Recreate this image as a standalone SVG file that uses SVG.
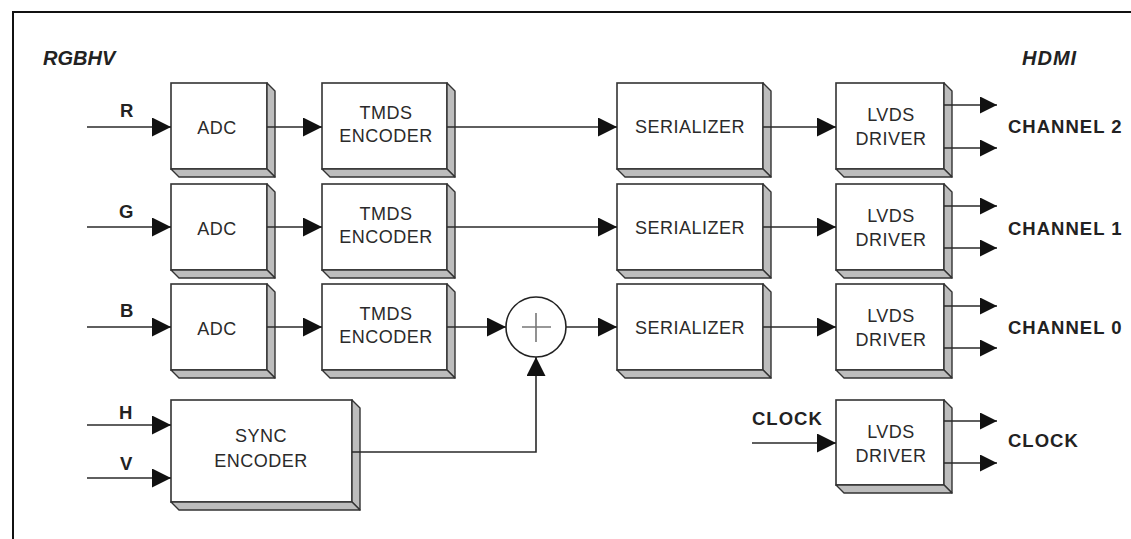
<svg xmlns="http://www.w3.org/2000/svg" width="1131" height="539" viewBox="0 0 1131 539">
<style>
.front{fill:#fff;stroke:#333;stroke-width:1.6}
.side{fill:#bdbdbd;stroke:#333;stroke-width:1.4;stroke-linejoin:round}
.bt{font-family:"Liberation Sans",Arial,sans-serif;font-size:18px;fill:#2a2a2a;text-anchor:middle;letter-spacing:0.5px}
.lb{font-family:"Liberation Sans",Arial,sans-serif;font-size:18.5px;font-weight:bold;fill:#222;letter-spacing:1px}
.ti{font-family:"Liberation Sans",Arial,sans-serif;font-size:20px;font-weight:bold;font-style:italic;fill:#222}
.ln{fill:none;stroke:#2a2a2a;stroke-width:1.6}
</style>
<defs>
<marker id="ah" markerUnits="userSpaceOnUse" markerWidth="20" markerHeight="20" refX="19" refY="9.5" orient="auto">
<path d="M0,0 L19,9.5 L0,19 z" fill="#111"/>
</marker>
<marker id="ao" markerUnits="userSpaceOnUse" markerWidth="18" markerHeight="18" refX="17" refY="8.5" orient="auto">
<path d="M0,0 L17,8.5 L0,17 z" fill="#111"/>
</marker>
</defs>
<rect width="1131" height="539" fill="#fff"/>
<path d="M13,539 V12 H1131" fill="none" stroke="#111" stroke-width="2"/>
<text class="ti" x="43" y="65">RGBHV</text>
<text class="ti" x="1022" y="65" font-size="21" letter-spacing="1">HDMI</text>

<g id="adc_r">
<rect class="front" x="171" y="83" width="96" height="86"/>
<polygon class="side" points="267,83 275,91 275,177 267,169"/>
<polygon class="side" points="171,169 267,169 275,177 179,177"/>
<text class="bt" x="217" y="134">ADC</text>
</g>
<g id="tmds_r">
<rect class="front" x="322" y="83" width="125" height="86"/>
<polygon class="side" points="447,83 455,91 455,177 447,169"/>
<polygon class="side" points="322,169 447,169 455,177 330,177"/>
<text class="bt" x="386" y="119">TMDS</text>
<text class="bt" x="386" y="142">ENCODER</text>
</g>
<g id="ser_r">
<rect class="front" x="617" y="83" width="146" height="86"/>
<polygon class="side" points="763,83 771,91 771,177 763,169"/>
<polygon class="side" points="617,169 763,169 771,177 625,177"/>
<text class="bt" x="690" y="133">SERIALIZER</text>
</g>
<g id="lvds_2">
<rect class="front" x="836" y="83" width="108" height="86"/>
<polygon class="side" points="944,83 952,91 952,177 944,169"/>
<polygon class="side" points="836,169 944,169 952,177 844,177"/>
<text class="bt" x="891" y="121">LVDS</text>
<text class="bt" x="891" y="145">DRIVER</text>
</g>

<g id="adc_g">
<rect class="front" x="171" y="184" width="96" height="86"/>
<polygon class="side" points="267,184 275,192 275,278 267,270"/>
<polygon class="side" points="171,270 267,270 275,278 179,278"/>
<text class="bt" x="217" y="235">ADC</text>
</g>
<g id="tmds_g">
<rect class="front" x="322" y="184" width="125" height="86"/>
<polygon class="side" points="447,184 455,192 455,278 447,270"/>
<polygon class="side" points="322,270 447,270 455,278 330,278"/>
<text class="bt" x="386" y="220">TMDS</text>
<text class="bt" x="386" y="243">ENCODER</text>
</g>
<g id="ser_g">
<rect class="front" x="617" y="184" width="146" height="86"/>
<polygon class="side" points="763,184 771,192 771,278 763,270"/>
<polygon class="side" points="617,270 763,270 771,278 625,278"/>
<text class="bt" x="690" y="234">SERIALIZER</text>
</g>
<g id="lvds_1">
<rect class="front" x="836" y="184" width="108" height="86"/>
<polygon class="side" points="944,184 952,192 952,278 944,270"/>
<polygon class="side" points="836,270 944,270 952,278 844,278"/>
<text class="bt" x="891" y="222">LVDS</text>
<text class="bt" x="891" y="246">DRIVER</text>
</g>

<g id="adc_b">
<rect class="front" x="171" y="284" width="96" height="86"/>
<polygon class="side" points="267,284 275,292 275,378 267,370"/>
<polygon class="side" points="171,370 267,370 275,378 179,378"/>
<text class="bt" x="217" y="335">ADC</text>
</g>
<g id="tmds_b">
<rect class="front" x="322" y="284" width="125" height="86"/>
<polygon class="side" points="447,284 455,292 455,378 447,370"/>
<polygon class="side" points="322,370 447,370 455,378 330,378"/>
<text class="bt" x="386" y="320">TMDS</text>
<text class="bt" x="386" y="343">ENCODER</text>
</g>
<g id="sum">
<circle cx="536" cy="327" r="30" fill="#fff" stroke="#222" stroke-width="1.6"/>
<path d="M522,327 H551 M536,313 V342" stroke="#777" stroke-width="1.6" fill="none"/>
</g>
<g id="ser_b">
<rect class="front" x="617" y="284" width="146" height="86"/>
<polygon class="side" points="763,284 771,292 771,378 763,370"/>
<polygon class="side" points="617,370 763,370 771,378 625,378"/>
<text class="bt" x="690" y="334">SERIALIZER</text>
</g>
<g id="lvds_0">
<rect class="front" x="836" y="284" width="108" height="86"/>
<polygon class="side" points="944,284 952,292 952,378 944,370"/>
<polygon class="side" points="836,370 944,370 952,378 844,378"/>
<text class="bt" x="891" y="322">LVDS</text>
<text class="bt" x="891" y="346">DRIVER</text>
</g>

<g id="sync">
<rect class="front" x="171" y="400" width="181" height="102"/>
<polygon class="side" points="352,400 360,408 360,510 352,502"/>
<polygon class="side" points="171,502 352,502 360,510 179,510"/>
<text class="bt" x="261" y="442">SYNC</text>
<text class="bt" x="261" y="467">ENCODER</text>
</g>
<g id="lvds_clk">
<rect class="front" x="836" y="400" width="108" height="85"/>
<polygon class="side" points="944,400 952,408 952,493 944,485"/>
<polygon class="side" points="836,485 944,485 952,493 844,493"/>
<text class="bt" x="891" y="438">LVDS</text>
<text class="bt" x="891" y="462">DRIVER</text>
</g>

<g id="labels">
<text class="lb" x="120" y="117">R</text>
<text class="lb" x="119" y="218">G</text>
<text class="lb" x="120" y="317">B</text>
<text class="lb" x="119" y="419">H</text>
<text class="lb" x="120" y="470">V</text>
<text class="lb" x="752" y="425">CLOCK</text>
<text class="lb" x="1008" y="133">CHANNEL 2</text>
<text class="lb" x="1008" y="235">CHANNEL 1</text>
<text class="lb" x="1008" y="334">CHANNEL 0</text>
<text class="lb" x="1008" y="447">CLOCK</text>
</g>

<g id="connectors">
<line class="ln" x1="87" y1="127" x2="171" y2="127" marker-end="url(#ah)"/>
<line class="ln" x1="267" y1="127" x2="322" y2="127" marker-end="url(#ah)"/>
<line class="ln" x1="447" y1="127" x2="617" y2="127" marker-end="url(#ah)"/>
<line class="ln" x1="763" y1="127" x2="836" y2="127" marker-end="url(#ah)"/>
<line class="ln" x1="944" y1="105" x2="997" y2="105" marker-end="url(#ao)"/>
<line class="ln" x1="944" y1="148" x2="997" y2="148" marker-end="url(#ao)"/>

<line class="ln" x1="87" y1="227" x2="171" y2="227" marker-end="url(#ah)"/>
<line class="ln" x1="267" y1="227" x2="322" y2="227" marker-end="url(#ah)"/>
<line class="ln" x1="447" y1="227" x2="617" y2="227" marker-end="url(#ah)"/>
<line class="ln" x1="763" y1="227" x2="836" y2="227" marker-end="url(#ah)"/>
<line class="ln" x1="944" y1="206" x2="997" y2="206" marker-end="url(#ao)"/>
<line class="ln" x1="944" y1="248" x2="997" y2="248" marker-end="url(#ao)"/>

<line class="ln" x1="87" y1="327" x2="171" y2="327" marker-end="url(#ah)"/>
<line class="ln" x1="267" y1="327" x2="322" y2="327" marker-end="url(#ah)"/>
<line class="ln" x1="447" y1="327" x2="506" y2="327" marker-end="url(#ah)"/>
<line class="ln" x1="566" y1="327" x2="617" y2="327" marker-end="url(#ah)"/>
<line class="ln" x1="763" y1="327" x2="836" y2="327" marker-end="url(#ah)"/>
<line class="ln" x1="944" y1="306" x2="997" y2="306" marker-end="url(#ao)"/>
<line class="ln" x1="944" y1="348" x2="997" y2="348" marker-end="url(#ao)"/>

<line class="ln" x1="87" y1="425" x2="171" y2="425" marker-end="url(#ah)"/>
<line class="ln" x1="87" y1="478" x2="171" y2="478" marker-end="url(#ah)"/>
<polyline class="ln" points="352,452 536,452 536,357" marker-end="url(#ah)"/>

<line class="ln" x1="752" y1="443" x2="836" y2="443" marker-end="url(#ah)"/>
<line class="ln" x1="944" y1="421" x2="997" y2="421" marker-end="url(#ao)"/>
<line class="ln" x1="944" y1="463" x2="997" y2="463" marker-end="url(#ao)"/>
</g>
</svg>
